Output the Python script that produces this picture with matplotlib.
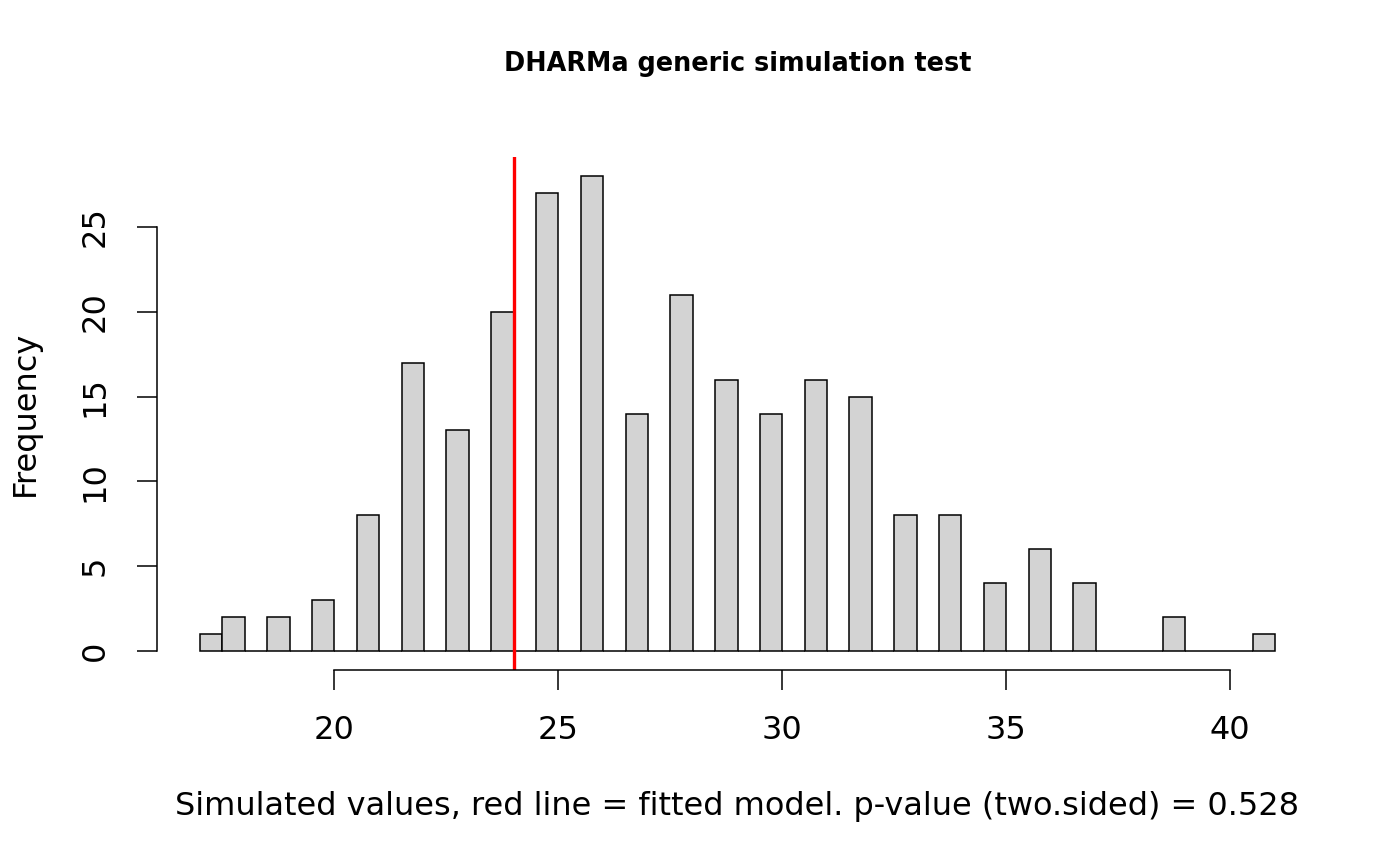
import numpy as np
import matplotlib
matplotlib.use("Agg")
import matplotlib.pyplot as plt

# simulated statistic values and how often each came up (250 simulations)
sim_values = [17, 18, 19, 20, 21, 22, 23, 24, 25, 26, 27, 28, 29,
              30, 31, 32, 33, 34, 35, 36, 37, 38, 39, 40, 41]
sim_counts = [1, 2, 2, 3, 8, 17, 13, 20, 27, 28, 14, 21, 16,
              14, 16, 15, 8, 8, 4, 6, 4, 0, 2, 0, 1]
observed = 24
p_value = 0.528

breaks = np.arange(17, 41.01, 0.5)

# R style right-closed bins, lowest bin includes its left edge
heights = np.zeros(len(breaks) - 1)
for v, c in zip(sim_values, sim_counts):
    idx = max(np.searchsorted(breaks, v, side="left") - 1, 0)
    heights[idx] += c

fig = plt.figure(figsize=(14, 8.66), dpi=100)
ax = fig.add_axes([157 / 1400, 196 / 866, 1161 / 1400, 513 / 866])

ax.bar(breaks[:-1], heights, width=0.5, align="edge",
       color="#d3d3d3", edgecolor="black", linewidth=1.1)
ax.axvline(observed, color="red", linewidth=2.4)

ax.set_xlim(16.04, 41.96)
ax.set_ylim(-1.12, 29.12)

for s in ["top", "right"]:
    ax.spines[s].set_visible(False)
ax.spines["bottom"].set_bounds(20, 40)
ax.spines["left"].set_bounds(0, 25)
ax.spines["bottom"].set_linewidth(1.1)
ax.spines["left"].set_linewidth(1.1)

ax.set_xticks([20, 25, 30, 35, 40])
ax.set_yticks([0, 5, 10, 15, 20, 25])
ax.tick_params(axis="both", length=14.4, width=1.1, labelsize=23)
ax.tick_params(axis="x", pad=18)
ax.tick_params(axis="y", pad=19)
for lab in ax.get_yticklabels():
    lab.set_rotation(90)
    lab.set_va("center")

ax.set_xlabel("Simulated values, red line = fitted model. p-value (two.sided) = " + str(p_value),
              fontsize=23)
ax.xaxis.set_label_coords(0.5, (670 - 806) / 513)
ax.xaxis.label.set_va("center")
ax.set_ylabel("Frequency", fontsize=23)
ax.yaxis.set_label_coords((25 - 157) / 1161, 0.5)
ax.yaxis.label.set_va("center")

fig.text(737.5 / 1400, 1 - 64 / 866, "DHARMa generic simulation test",
         ha="center", va="center", fontsize=18.4, fontweight="bold")

fig.savefig("out.png", dpi=100)
